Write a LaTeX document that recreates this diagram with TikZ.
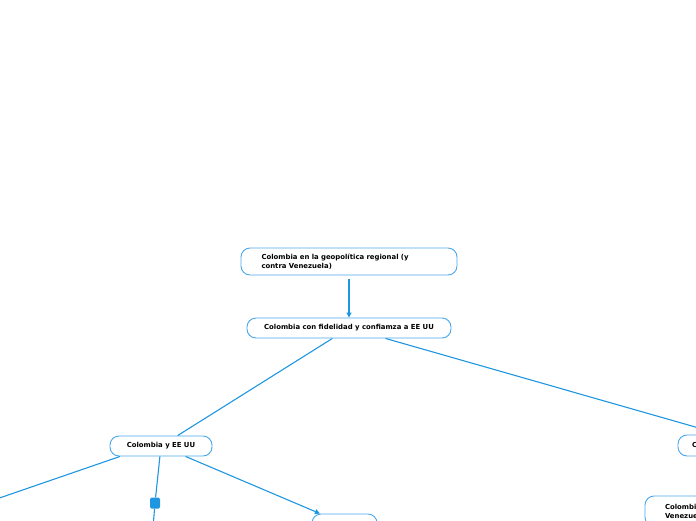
\documentclass[tikz,border=0pt]{standalone}
\usepackage{fontspec}
\setmainfont{DejaVu Sans}
\usetikzlibrary{arrows.meta}
\definecolor{lineblue}{HTML}{1E96E0}
\definecolor{boxblue}{HTML}{4AA8EA}
\begin{document}
\begin{tikzpicture}[x=1pt,y=-1pt,
  box/.style={draw=boxblue,line width=0.9pt,rounded corners=9pt,fill=white,
    font=\fontsize{6.9}{9}\selectfont\bfseries,inner sep=0pt,anchor=center},
  conn/.style={draw=lineblue,line width=1.1pt},
  tip/.style={-{Triangle[length=5pt,width=5pt]}},
  marker/.style={fill=lineblue,rounded corners=1.5pt,minimum width=10pt,minimum height=11pt,inner sep=0pt}]
\useasboundingbox (0,0) rectangle (696,520);
\clip (0,0) rectangle (696,520);
\node[box,minimum width=216pt,minimum height=27pt,text width=175pt,align=left] (n1) at (349,261.5)
  {Colombia en la geopolítica regional (y\\contra Venezuela)};
\node[box,minimum width=204pt,minimum height=20pt] (n2) at (349,328)
  {Colombia con fidelidad y confiamza a EE UU};
\node[box,minimum width=102pt,minimum height=20pt] (n3) at (161,446) {Colombia y EE UU};
\node[box,minimum width=65pt,minimum height=20pt] (n4) at (344.5,524) {};
\node[box,minimum width=164pt,minimum height=21pt,text width=136pt,align=left] (n5) at (760,445.5) {Colombia y Venezuela};
\node[box,minimum width=160pt,minimum height=30pt,text width=120pt,align=left] (n6) at (725,511) {Colombia contra\\Venezuela};
\node[marker] (mk) at (155,503) {};
\coordinate (offleft) at (-60,518.5);
\coordinate (offdown) at (152,540);
\draw[conn,tip,shorten <=4pt] (n1) -- (n2);
\draw[conn] (n2) -- (n3);
\draw[conn] (n2) -- (n5);
\draw[conn] ([xshift=-41pt]n3.south) -- (offleft);
\draw[conn] (n3) -- (mk);
\draw[conn] (mk) -- (offdown);
\draw[conn,tip] (n3) -- (n4);
\end{tikzpicture}
\end{document}
